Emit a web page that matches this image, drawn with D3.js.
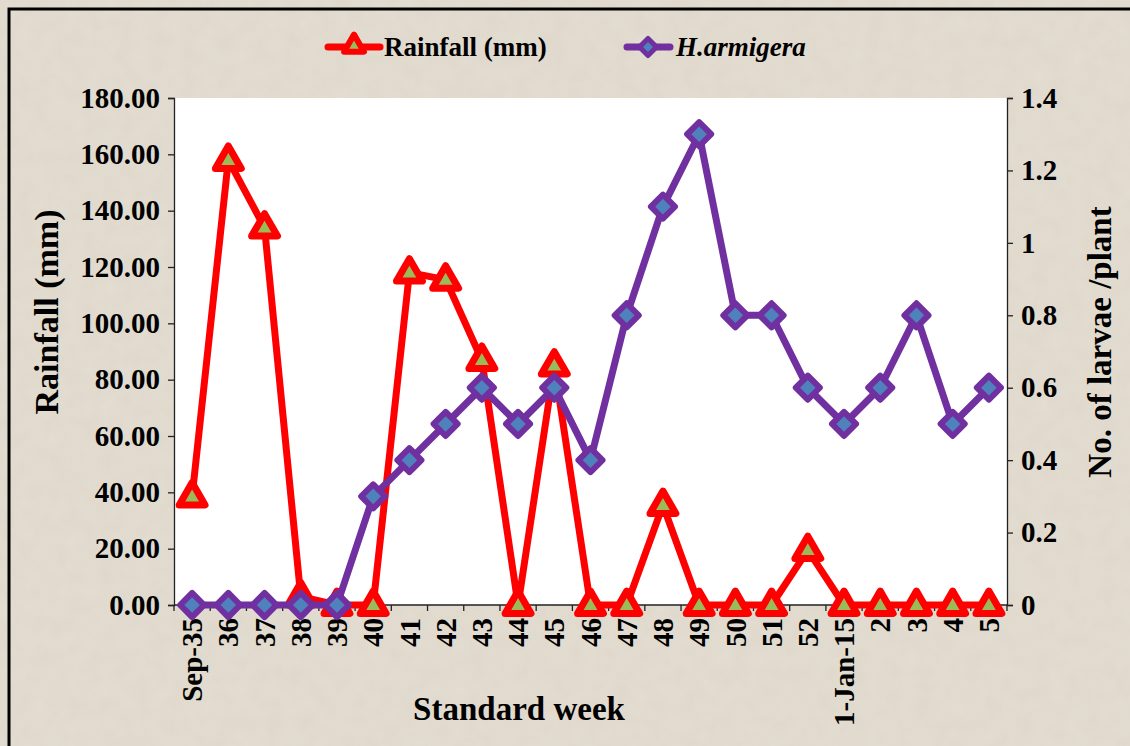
<!DOCTYPE html>
<html lang="en">
<head>
<meta charset="UTF-8">
<title>Rainfall and H. armigera</title>
<script src="https://d3js.org/d3.v7.min.js"></script>
<style>
    body { margin: 0; background: #e4ddd1; }
    text { font-family: "Liberation Serif", "Times New Roman", serif; font-weight: bold; fill: #000; }
    .tick text { font-size: 29px; }
    .axis path, .axis line { stroke: #222; stroke-width: 1.3; }
</style>
</head>
<body>
<script>
    var weeks = ["Sep-35","36","37","38","39","40","41","42","43","44","45","46","47","48","49","50","51","52","1-Jan-15","2","3","4","5"];
    var rainfall = [38.5,158,134,3,0,0,118,115.5,87,0,85,0,0,35.5,0,0,0,19.5,0,0,0,0,0];
    var larvae = [0,0,0,0,0,0.3,0.4,0.5,0.6,0.5,0.6,0.4,0.8,1.1,1.3,0.8,0.8,0.6,0.5,0.6,0.8,0.5,0.6];
    var leftTicks = [0,20,40,60,80,100,120,140,160,180];
    var rightTicks = [0,0.2,0.4,0.6,0.8,1,1.2,1.4];

    var W = 1130, H = 746;
    var pL = 174, pR = 1007, pT = 98, pB = 605;

    var svg = d3.select("body").append("svg").attr("width", W).attr("height", H);

    // paper-like texture
    var defs = svg.append("defs");
    var f = defs.append("filter").attr("id", "grain");
    f.append("feTurbulence").attr("type", "fractalNoise").attr("baseFrequency", 0.06).attr("numOctaves", 3).attr("seed", 4);
    f.append("feColorMatrix").attr("values", "0 0 0 0 0.55  0 0 0 0 0.5  0 0 0 0 0.42  0 0 0 0.18 0");
    f.append("feComposite").attr("in2", "SourceGraphic").attr("operator", "in");

    svg.append("rect").attr("width", W).attr("height", H).attr("fill", "#e4ddd1");
    svg.append("rect").attr("width", W).attr("height", H).attr("fill", "#e4ddd1").attr("filter", "url(#grain)");
    // frame
    svg.append("path").attr("d", "M9,746 V9 H1130").attr("fill", "none").attr("stroke", "#000").attr("stroke-width", 3);

    var x = d3.scaleBand().domain(weeks).range([pL, pR]);
    var yL = d3.scaleLinear().domain([0, 180]).range([pB, pT]);
    var yR = d3.scaleLinear().domain([0, 1.4]).range([pB, pT]);

    svg.append("rect").attr("x", pL).attr("y", pT).attr("width", pR - pL).attr("height", pB - pT).attr("fill", "#fff");

    // axes
    svg.append("g").attr("class", "axis").attr("transform", "translate(" + pL + ",0)")
        .call(d3.axisLeft(yL).tickValues(leftTicks).tickFormat(d3.format(".2f")).tickSize(6).tickPadding(8));
    svg.append("g").attr("class", "axis").attr("transform", "translate(" + pR + ",0)")
        .call(d3.axisRight(yR).tickValues(rightTicks).tickFormat(function(d){ return String(+d.toFixed(1)); }).tickSize(6).tickPadding(8));

    var xa = svg.append("g").attr("class", "axis").attr("transform", "translate(0," + pB + ")")
        .call(d3.axisBottom(x).tickSize(0).tickPadding(0));
    xa.select(".domain").attr("d", "M" + pL + ",0H" + pR);
    // ticks at category boundaries
    xa.selectAll(".bnd").data(weeks.concat([""])).enter().append("line")
        .attr("x1", function(d, i){ return pL + i * x.step(); })
        .attr("x2", function(d, i){ return pL + i * x.step(); })
        .attr("y1", 0).attr("y2", 6);
    xa.selectAll(".tick text")
        .attr("transform", "rotate(-90)")
        .attr("x", -13).attr("y", 0).attr("dy", "0.35em")
        .style("text-anchor", "end");

    var cx = function(i){ return x(weeks[i]) + x.bandwidth() / 2; };

    // rainfall
    svg.append("path").datum(rainfall)
        .attr("fill", "none").attr("stroke", "#ff0000").attr("stroke-width", 7).attr("stroke-linejoin", "round")
        .attr("d", d3.line().x(function(d, i){ return cx(i); }).y(function(d){ return yL(d); }));
    var tri = d3.symbol().type(d3.symbolTriangle).size(290);
    svg.append("g").selectAll("path").data(rainfall).enter().append("path")
        .attr("d", tri)
        .attr("transform", function(d, i){ return "translate(" + cx(i) + "," + (yL(d) + 1) + ")"; })
        .attr("fill", "#9bbb59").attr("stroke", "#ff0000").attr("stroke-width", 7).attr("stroke-linejoin", "round");

    // larvae
    svg.append("path").datum(larvae)
        .attr("fill", "none").attr("stroke", "#7030a0").attr("stroke-width", 7).attr("stroke-linejoin", "round")
        .attr("d", d3.line().x(function(d, i){ return cx(i); }).y(function(d){ return yR(d); }));
    svg.append("g").selectAll("rect").data(larvae).enter().append("rect")
        .attr("x", -8.5).attr("y", -8.5).attr("width", 17).attr("height", 17)
        .attr("transform", function(d, i){ return "translate(" + cx(i) + "," + yR(d) + ") rotate(45)"; })
        .attr("fill", "#4f81bd").attr("stroke", "#7030a0").attr("stroke-width", 6).attr("stroke-linejoin", "round");

    // axis titles
    svg.append("text").attr("transform", "translate(58,312) rotate(-90)")
        .attr("text-anchor", "middle").style("font-size", "34px").text("Rainfall (mm)");
    svg.append("text").attr("transform", "translate(1111,342) rotate(-90)")
        .attr("text-anchor", "middle").style("font-size", "33px").text("No. of larvae /plant");
    svg.append("text").attr("x", 519).attr("y", 720)
        .attr("text-anchor", "middle").style("font-size", "33px").text("Standard week");

    // legend
    var lg = svg.append("g");
    lg.append("line").attr("x1", 328).attr("x2", 380).attr("y1", 47).attr("y2", 47)
        .attr("stroke", "#ff0000").attr("stroke-width", 7).attr("stroke-linecap", "round");
    lg.append("path").attr("d", d3.symbol().type(d3.symbolTriangle).size(170))
        .attr("transform", "translate(354,46)")
        .attr("fill", "#9bbb59").attr("stroke", "#ff0000").attr("stroke-width", 6).attr("stroke-linejoin", "round");
    lg.append("text").attr("x", 384).attr("y", 56).style("font-size", "27px").text("Rainfall (mm)");
    lg.append("line").attr("x1", 627).attr("x2", 670).attr("y1", 47).attr("y2", 47)
        .attr("stroke", "#7030a0").attr("stroke-width", 7).attr("stroke-linecap", "round");
    lg.append("rect").attr("x", -6).attr("y", -6).attr("width", 12).attr("height", 12)
        .attr("transform", "translate(648,47) rotate(45)")
        .attr("fill", "#4f81bd").attr("stroke", "#7030a0").attr("stroke-width", 5).attr("stroke-linejoin", "round");
    lg.append("text").attr("x", 676).attr("y", 56).style("font-size", "27px").style("font-style", "italic").text("H.armigera");
</script>
</body>
</html>
